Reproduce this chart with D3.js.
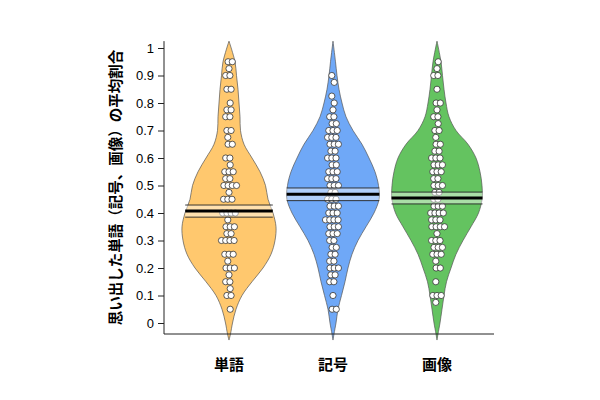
<!DOCTYPE html>
<html><head><meta charset="utf-8">
<script src="https://cdn.jsdelivr.net/npm/d3@7"></script>
<style>body{margin:0;background:#fff}svg{display:block}</style>
</head><body>
<script>
// ---- data ----
const categories = ["単語", "記号", "画像"];
const beanColors = ["#FFC86E", "#6FA8F7", "#64C360"];
const yTicks = [0, 0.1, 0.2, 0.3, 0.4, 0.5, 0.6, 0.7, 0.8, 0.9, 1];
const yTickLabels = ["0", "0.1", "0.2", "0.3", "0.4", "0.5", "0.6", "0.7", "0.8", "0.9", "1"];
const yTitle = "思い出した単語（記号、画像）の平均割合";

// mean and interval band
const means = [0.407, 0.468, 0.455];
const bandLow = [0.385, 0.445, 0.433];
const bandHigh = [0.429, 0.491, 0.476];

// bean outline: relative density at value levels
const beanLevels = [1.025, 0.95, 0.9, 0.85, 0.8, 0.75, 0.7, 0.65, 0.6, 0.55, 0.5, 0.45, 0.4, 0.35, 0.3, 0.25, 0.2, 0.15, 0.1, 0.05, 0, -0.04, -0.062];
const densWord   = [0, 6, 7.5, 9, 10, 11, 11.5, 15, 23, 31, 36.5, 39, 44, 47, 46, 42, 34, 23, 13, 7, 3.5, 1.5, 0];
const densSymbol = [0, 2.5, 4, 6, 9, 13, 20, 29, 36, 42, 45.5, 46, 41, 33, 25, 19, 15, 12, 8.5, 5, 3, 1, 0];
const densImage  = [0, 4, 5.5, 7, 9, 12, 19, 31, 39, 43, 45, 45, 41.5, 34, 26, 19, 14, 9.5, 7, 5, 3, 1, 0];

// individual scores
const scoresWord = [0.95,0.95,0.925,0.9,0.9,0.85,0.85,0.8,0.775,0.775,0.75,0.75,0.7,0.7,0.675,0.65,0.65,0.6,0.6,0.575,0.55,0.55,0.55,0.525,0.525,0.5,0.5,0.5,0.5,0.475,0.45,0.45,0.45,0.4,0.4,0.4,0.4,0.375,0.35,0.35,0.35,0.325,0.325,0.3,0.3,0.3,0.3,0.25,0.25,0.25,0.225,0.2,0.2,0.2,0.175,0.15,0.15,0.125,0.1,0.1,0.05];
const scoresSymbol = [0.9,0.875,0.825,0.8,0.775,0.75,0.75,0.725,0.725,0.7,0.7,0.7,0.675,0.675,0.675,0.65,0.65,0.65,0.625,0.625,0.6,0.6,0.6,0.575,0.575,0.55,0.55,0.55,0.525,0.525,0.525,0.5,0.5,0.5,0.475,0.475,0.45,0.45,0.45,0.425,0.425,0.425,0.4,0.4,0.4,0.375,0.375,0.375,0.375,0.35,0.35,0.35,0.325,0.325,0.325,0.3,0.3,0.275,0.275,0.25,0.25,0.225,0.225,0.2,0.2,0.2,0.175,0.175,0.15,0.15,0.1,0.05,0.05];
const scoresImage = [0.95,0.925,0.9,0.9,0.85,0.8,0.8,0.775,0.75,0.75,0.725,0.7,0.7,0.675,0.65,0.65,0.625,0.625,0.6,0.6,0.6,0.575,0.575,0.575,0.55,0.55,0.55,0.525,0.525,0.5,0.5,0.5,0.475,0.475,0.45,0.45,0.425,0.425,0.425,0.4,0.4,0.4,0.4,0.375,0.375,0.375,0.35,0.35,0.35,0.35,0.325,0.3,0.3,0.3,0.275,0.275,0.275,0.25,0.25,0.25,0.225,0.2,0.2,0.15,0.1,0.1,0.1,0.075];

const densities = [densWord, densSymbol, densImage];
const scores = [scoresWord, scoresSymbol, scoresImage];

// ---- drawing ----
const W = 600, H = 400;
const svg = d3.select("body").append("svg").attr("width", W).attr("height", H);

const x = d3.scalePoint().domain(categories).range([229, 437]);
const y = d3.scaleLinear().domain([0, 1]).range([323, 48]);
const wScale = d3.scaleLinear().domain([0, 47]).range([0, 47]);

const frameTop = 1.025, frameBottom = -0.04;
const frameLeft = 164, frameRight = 494;

categories.forEach((cat, gi) => {
  const cx = x(cat);
  const prof = beanLevels.map((v, i) => ({v, w: densities[gi][i]}));
  const area = d3.area()
    .y(d => y(d.v))
    .x0(d => cx - wScale(d.w))
    .x1(d => cx + wScale(d.w))
    .curve(d3.curveCatmullRom.alpha(0.5));
  const g = svg.append("g");
  g.append("path").attr("d", area(prof))
    .attr("fill", beanColors[gi]).attr("stroke", "#555").attr("stroke-width", 0.7);

  // points with deterministic spread within each row
  const rows = d3.group(scores[gi], d => d);
  const pts = [];
  rows.forEach((arr, v) => {
    const k = arr.length;
    arr.forEach((_, i) => pts.push({v, off: (i - (k - 1) / 2) * 4.2 + ((Math.round(v * 40) % 3) - 1) * 1.2}));
  });
  g.selectAll("circle").data(pts).join("circle")
    .attr("cx", d => cx + d.off).attr("cy", d => y(d.v)).attr("r", 3.1)
    .attr("fill", "#fff").attr("stroke", "#333").attr("stroke-width", 0.8);

  // band width from bean width at mean
  const interp = v => {
    for (let i = 0; i < beanLevels.length - 1; i++) {
      const a = beanLevels[i], b = beanLevels[i + 1];
      if (v <= a && v >= b) {
        const t = (a - v) / (a - b);
        return densities[gi][i] + t * (densities[gi][i + 1] - densities[gi][i]);
      }
    }
    return 0;
  };
  const hw = wScale(interp(means[gi])) + 0.5;
  g.append("rect").attr("x", cx - hw).attr("width", hw * 2)
    .attr("y", y(bandHigh[gi])).attr("height", y(bandLow[gi]) - y(bandHigh[gi]))
    .attr("fill", "#fff").attr("fill-opacity", 0.45).attr("stroke", "none");
  [bandHigh[gi], bandLow[gi]].forEach(v => {
    g.append("line").attr("x1", cx - hw).attr("x2", cx + hw)
      .attr("y1", y(v)).attr("y2", y(v))
      .attr("stroke", "#222").attr("stroke-width", 0.9);
  });
  g.append("line").attr("x1", cx - hw).attr("x2", cx + hw)
    .attr("y1", y(means[gi])).attr("y2", y(means[gi]))
    .attr("stroke", "#000").attr("stroke-width", 3);
});

// frame (L box)
svg.append("path")
  .attr("d", `M${frameLeft},${y(frameTop)}V${y(frameBottom)}H${frameRight}`)
  .attr("fill", "none").attr("stroke", "#222").attr("stroke-width", 1);

// y axis
const yAxis = d3.axisLeft(y).tickValues(yTicks).tickFormat((d, i) => yTickLabels[i]).tickSize(6).tickPadding(4);
const ga = svg.append("g").attr("transform", `translate(${frameLeft},0)`).call(yAxis);
ga.select(".domain").remove();
ga.selectAll("text").attr("font-family", "Liberation Sans, Arial, sans-serif").attr("font-size", 13).attr("fill", "#000");
ga.selectAll("line").attr("stroke", "#222");

// category labels
svg.selectAll(".cat").data(categories).join("text")
  .attr("x", d => x(d)).attr("y", 370).attr("text-anchor", "middle")
  .attr("font-family", "Noto Sans CJK JP").attr("font-weight", "bold").attr("font-size", 15)
  .text(d => d);

// y title
svg.append("text")
  .attr("transform", `translate(121,${(y(frameTop) + y(frameBottom)) / 2}) rotate(-90)`)
  .attr("text-anchor", "middle")
  .attr("font-family", "Noto Sans CJK JP").attr("font-weight", "bold").attr("font-size", 14.5)
  .text(yTitle);
</script>
</body></html>
